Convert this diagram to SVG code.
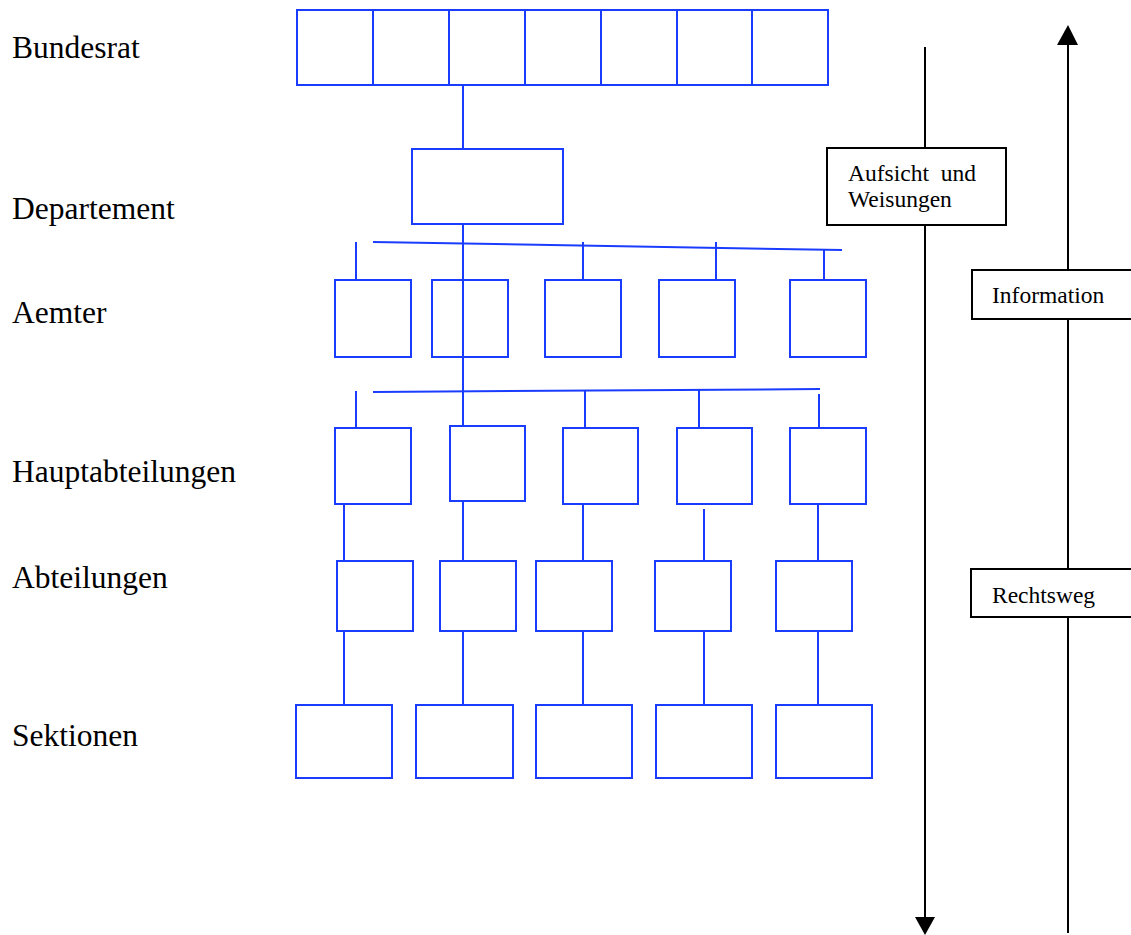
<svg xmlns="http://www.w3.org/2000/svg" width="1131" height="935" viewBox="0 0 1131 935">
<style>
.b{fill:#fff;stroke:#1a3cff;stroke-width:2}
.c{fill:none;stroke:#1a3cff;stroke-width:2}
.k{fill:none;stroke:#000;stroke-width:2}
.kb{fill:#fff;stroke:#000;stroke-width:2}
.lab{font-family:"Liberation Serif",serif;font-size:31.5px;fill:#000}
.sm{font-family:"Liberation Serif",serif;font-size:23.5px;fill:#000}
</style>
<rect width="1131" height="935" fill="#fff"/>
<g id="labels">
<text class="lab" x="12" y="58">Bundesrat</text>
<text class="lab" x="12" y="219">Departement</text>
<text class="lab" x="12" y="323">Aemter</text>
<text class="lab" x="12" y="482">Hauptabteilungen</text>
<text class="lab" x="12" y="588">Abteilungen</text>
<text class="lab" x="12" y="746">Sektionen</text>
</g>
<g id="connectors">
<line class="c" x1="463" y1="85" x2="463" y2="149"/>
<line class="c" x1="463" y1="224" x2="463" y2="427"/>
<line class="c" x1="373" y1="242" x2="842" y2="250"/>
<line class="c" x1="356" y1="242" x2="356" y2="280"/>
<line class="c" x1="583" y1="242" x2="583" y2="280"/>
<line class="c" x1="716" y1="242" x2="716" y2="280"/>
<line class="c" x1="824" y1="250" x2="824" y2="280"/>
<line class="c" x1="373" y1="392" x2="820" y2="389"/>
<line class="c" x1="356" y1="391" x2="356" y2="428"/>
<line class="c" x1="585" y1="390" x2="585" y2="428"/>
<line class="c" x1="699" y1="390" x2="699" y2="428"/>
<line class="c" x1="819" y1="394" x2="819" y2="428"/>
<line class="c" x1="344" y1="504" x2="344" y2="561"/>
<line class="c" x1="463" y1="501" x2="463" y2="561"/>
<line class="c" x1="583" y1="504" x2="583" y2="561"/>
<line class="c" x1="704" y1="509" x2="704" y2="561"/>
<line class="c" x1="818" y1="504" x2="818" y2="561"/>
<line class="c" x1="344" y1="631" x2="344" y2="705"/>
<line class="c" x1="463" y1="631" x2="463" y2="705"/>
<line class="c" x1="583" y1="631" x2="583" y2="705"/>
<line class="c" x1="704" y1="631" x2="704" y2="705"/>
<line class="c" x1="818" y1="631" x2="818" y2="705"/>
<line class="k" x1="925" y1="47" x2="925" y2="920"/>
<polygon points="915,917 935,917 925,935" fill="#000"/>
<line class="k" x1="1068" y1="42" x2="1068" y2="933"/>
<polygon points="1057,45 1078,45 1068,25" fill="#000"/>
</g>
<g id="bundesrat">
<rect class="b" x="297" y="10" width="531" height="75"/>
<line class="c" x1="373" y1="10" x2="373" y2="85"/>
<line class="c" x1="449" y1="10" x2="449" y2="85"/>
<line class="c" x1="525" y1="10" x2="525" y2="85"/>
<line class="c" x1="601" y1="10" x2="601" y2="85"/>
<line class="c" x1="677" y1="10" x2="677" y2="85"/>
<line class="c" x1="752" y1="10" x2="752" y2="85"/>
</g>
<g id="departement"><rect class="b" x="412" y="149" width="151" height="75"/></g>
<g id="aemter">
<rect class="c" x="335" y="280" width="76" height="77"/>
<rect class="c" x="432" y="280" width="76" height="77"/>
<rect class="c" x="545" y="280" width="76" height="77"/>
<rect class="c" x="659" y="280" width="76" height="77"/>
<rect class="c" x="790" y="280" width="76" height="77"/>
</g>
<g id="hauptabteilungen">
<rect class="b" x="335" y="428" width="76" height="76"/>
<rect class="b" x="450" y="426" width="75" height="75"/>
<rect class="b" x="563" y="428" width="75" height="76"/>
<rect class="b" x="677" y="428" width="75" height="76"/>
<rect class="b" x="790" y="428" width="76" height="76"/>
</g>
<g id="abteilungen">
<rect class="b" x="337" y="561" width="76" height="70"/>
<rect class="b" x="440" y="561" width="76" height="70"/>
<rect class="b" x="536" y="561" width="76" height="70"/>
<rect class="b" x="655" y="561" width="76" height="70"/>
<rect class="b" x="776" y="561" width="76" height="70"/>
</g>
<g id="sektionen">
<rect class="b" x="296" y="705" width="96" height="73"/>
<rect class="b" x="416" y="705" width="97" height="73"/>
<rect class="b" x="536" y="705" width="96" height="73"/>
<rect class="b" x="656" y="705" width="96" height="73"/>
<rect class="b" x="776" y="705" width="96" height="73"/>
</g>
<g id="aufsicht">
<rect class="kb" x="827" y="148" width="179" height="77"/>
<text class="sm" x="848" y="181" word-spacing="6">Aufsicht und</text>
<text class="sm" x="848" y="207">Weisungen</text>
</g>
<g id="information">
<rect class="kb" x="972" y="270" width="170" height="49"/>
<text class="sm" x="992" y="303">Information</text>
</g>
<g id="rechtsweg">
<rect class="kb" x="971" y="569" width="170" height="48"/>
<text class="sm" x="992" y="603">Rechtsweg</text>
</g>
</svg>
